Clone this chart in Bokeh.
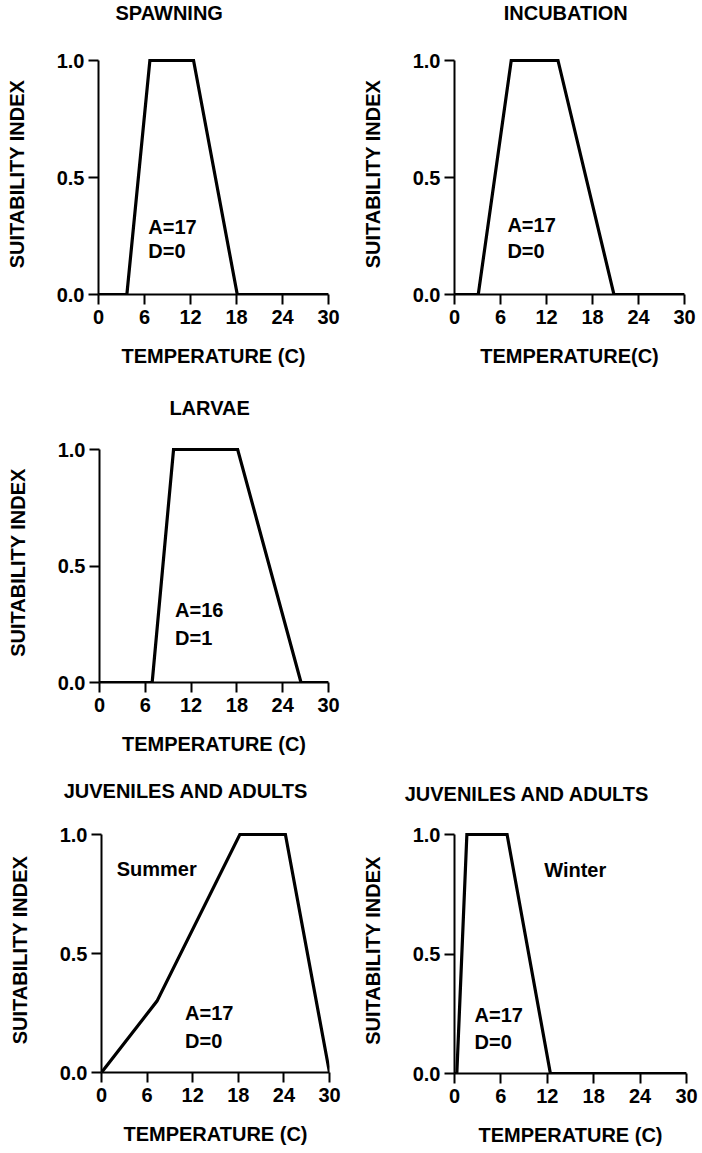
from bokeh.plotting import figure
from bokeh.layouts import column, row
from bokeh.models import Range1d, FixedTicker, Title, NumeralTickFormatter
from bokeh.embed import file_html
from bokeh.resources import INLINE
from bokeh.core.properties import value

# ---- data ----
temp_ticks = [0, 6, 12, 18, 24, 30]
si_ticks = [0, 0.5, 1.0]

spawning_temp = [0, 3.7, 6.7, 12.4, 18.1, 30]
spawning_si = [0, 0, 1, 1, 0, 0]

incubation_temp = [0, 3.1, 7.4, 13.5, 20.8, 30]
incubation_si = [0, 0, 1, 1, 0, 0]

larvae_temp = [0, 6.9, 9.7, 18.1, 26.4, 30]
larvae_si = [0, 0, 1, 1, 0, 0]

summer_temp = [0, 7.3, 18.2, 24.2, 30]
summer_si = [0, 0.3, 1, 1, 0]

winter_temp = [0, 0.3, 1.6, 6.8, 12.4, 30]
winter_si = [0, 0, 1, 1, 0, 0]

titles = ["SPAWNING", "INCUBATION", "LARVAE", "JUVENILES AND ADULTS", "JUVENILES AND ADULTS"]
xlabels = ["TEMPERATURE (C)", "TEMPERATURE(C)", "TEMPERATURE (C)", "TEMPERATURE (C)", "TEMPERATURE (C)"]
ylabel = "SUITABILITY INDEX"

notes_text = [["A=17", "D=0"], ["A=17", "D=0"], ["A=16", "D=1"],
              ["Summer", "A=17", "D=0"], ["Winter", "A=17", "D=0"]]
notes_x = [[6.5, 6.5], [6.9, 6.9], [9.9, 9.9], [2.0, 11.0, 11.0], [11.6, 2.6, 2.6]]
notes_y = [[0.29, 0.185], [0.295, 0.185], [0.31, 0.19], [0.857, 0.248, 0.134], [0.85, 0.243, 0.13]]

FONT = "Liberation Sans"
FSN = 20
FS = f"{FSN}px"
PAD = 0.03

# Helvetica-bold advance widths (em) used to centre titles
W = {"A": .722, "B": .722, "C": .722, "D": .722, "E": .667, "G": .778, "I": .278, "J": .556,
     "L": .611, "N": .722, "O": .778, "P": .667, "R": .722, "S": .667, "T": .611, "U": .722,
     "V": .667, "W": .944, "Y": .667, " ": .278}


def text_w(s):
    return sum(W.get(c, .6) for c in s) * FSN


def panel(i, temp, si, mbl, fw, mbr, top1, sh, mbb, tcx, gap):
    """tcx: title centre x relative to frame left; gap: px from title cap centre down to frame top"""
    padpx = round(sh * PAD)
    fh = sh + padpx
    p = figure(frame_width=fw, frame_height=fh,
               min_border_left=mbl, min_border_right=mbr,
               min_border_top=top1 - padpx, min_border_bottom=mbb,
               x_range=Range1d(0, 30), y_range=Range1d(0, 1 + padpx / sh),
               output_backend="svg", toolbar_location=None)
    p.outline_line_color = None
    p.xgrid.visible = False
    p.ygrid.visible = False
    p.background_fill_color = "white"
    p.border_fill_color = "white"

    p.line(temp, si, line_color="black", line_width=3.2, line_join="miter")

    for ax in (p.xaxis[0], p.yaxis[0]):
        ax.axis_line_width = 2
        ax.axis_line_color = "black"
        ax.major_tick_line_width = 2
        ax.major_tick_line_color = "black"
        ax.major_tick_in = 0
        ax.major_tick_out = 10
        ax.minor_tick_line_color = None
        ax.major_label_text_font = FONT
        ax.major_label_text_font_size = FS
        ax.major_label_text_font_style = "bold"
        ax.major_label_text_color = "black"
        ax.axis_label_text_font = FONT
        ax.axis_label_text_font_size = FS
        ax.axis_label_text_font_style = "bold"
        ax.axis_label_text_color = "black"

    p.xaxis.ticker = FixedTicker(ticks=temp_ticks)
    p.xaxis.axis_label = xlabels[i]
    p.xaxis.major_label_standoff = 5
    p.xaxis.axis_label_standoff = 18

    p.yaxis.ticker = FixedTicker(ticks=si_ticks)
    p.yaxis.formatter = NumeralTickFormatter(format="0.0")
    p.yaxis.bounds = (0, 1)
    p.yaxis.axis_label = ylabel
    p.yaxis.major_label_standoff = 4
    p.yaxis.axis_label_standoff = 26

    # thin spacer title next to the frame, real title stacked above it
    p.add_layout(Title(text=" ", text_font_size="1px", standoff=max(0, round(gap - 13)),
                       text_color="white"), "above")
    p.title = Title(text=titles[i], align="left", vertical_align="top",
                    offset=tcx - text_w(titles[i]) / 2, standoff=0,
                    text_font=FONT, text_font_size=FS, text_font_style="bold",
                    text_color="black")

    p.text(x=notes_x[i], y=notes_y[i], text=notes_text[i],
           text_font=value(FONT), text_font_size=FS, text_font_style="bold",
           text_color="black", text_align="left", text_baseline="middle")
    return p


# rows: 0-383, 383-768, 768-1150
f1 = panel(0, spawning_temp, spawning_si, 98, 230, 22, 60, 234, 89, 72, 38)
f2 = panel(1, incubation_temp, incubation_si, 104, 230, 16, 60, 234, 89, 112, 38)
f3 = panel(2, larvae_temp, larvae_si, 99, 229, 22, 66, 233, 86, 111, 32)
f4 = panel(3, summer_temp, summer_si, 101, 228, 21, 66, 238, 78, 85.5, 34)
f5 = panel(4, winter_temp, winter_si, 104, 232, 14, 64, 239, 79, 73.5, 31)

layout = column(row(f1, f2, spacing=0), row(f3, spacing=0), row(f4, f5, spacing=0), spacing=0)

open("out.html", "w").write(file_html(layout, INLINE))
